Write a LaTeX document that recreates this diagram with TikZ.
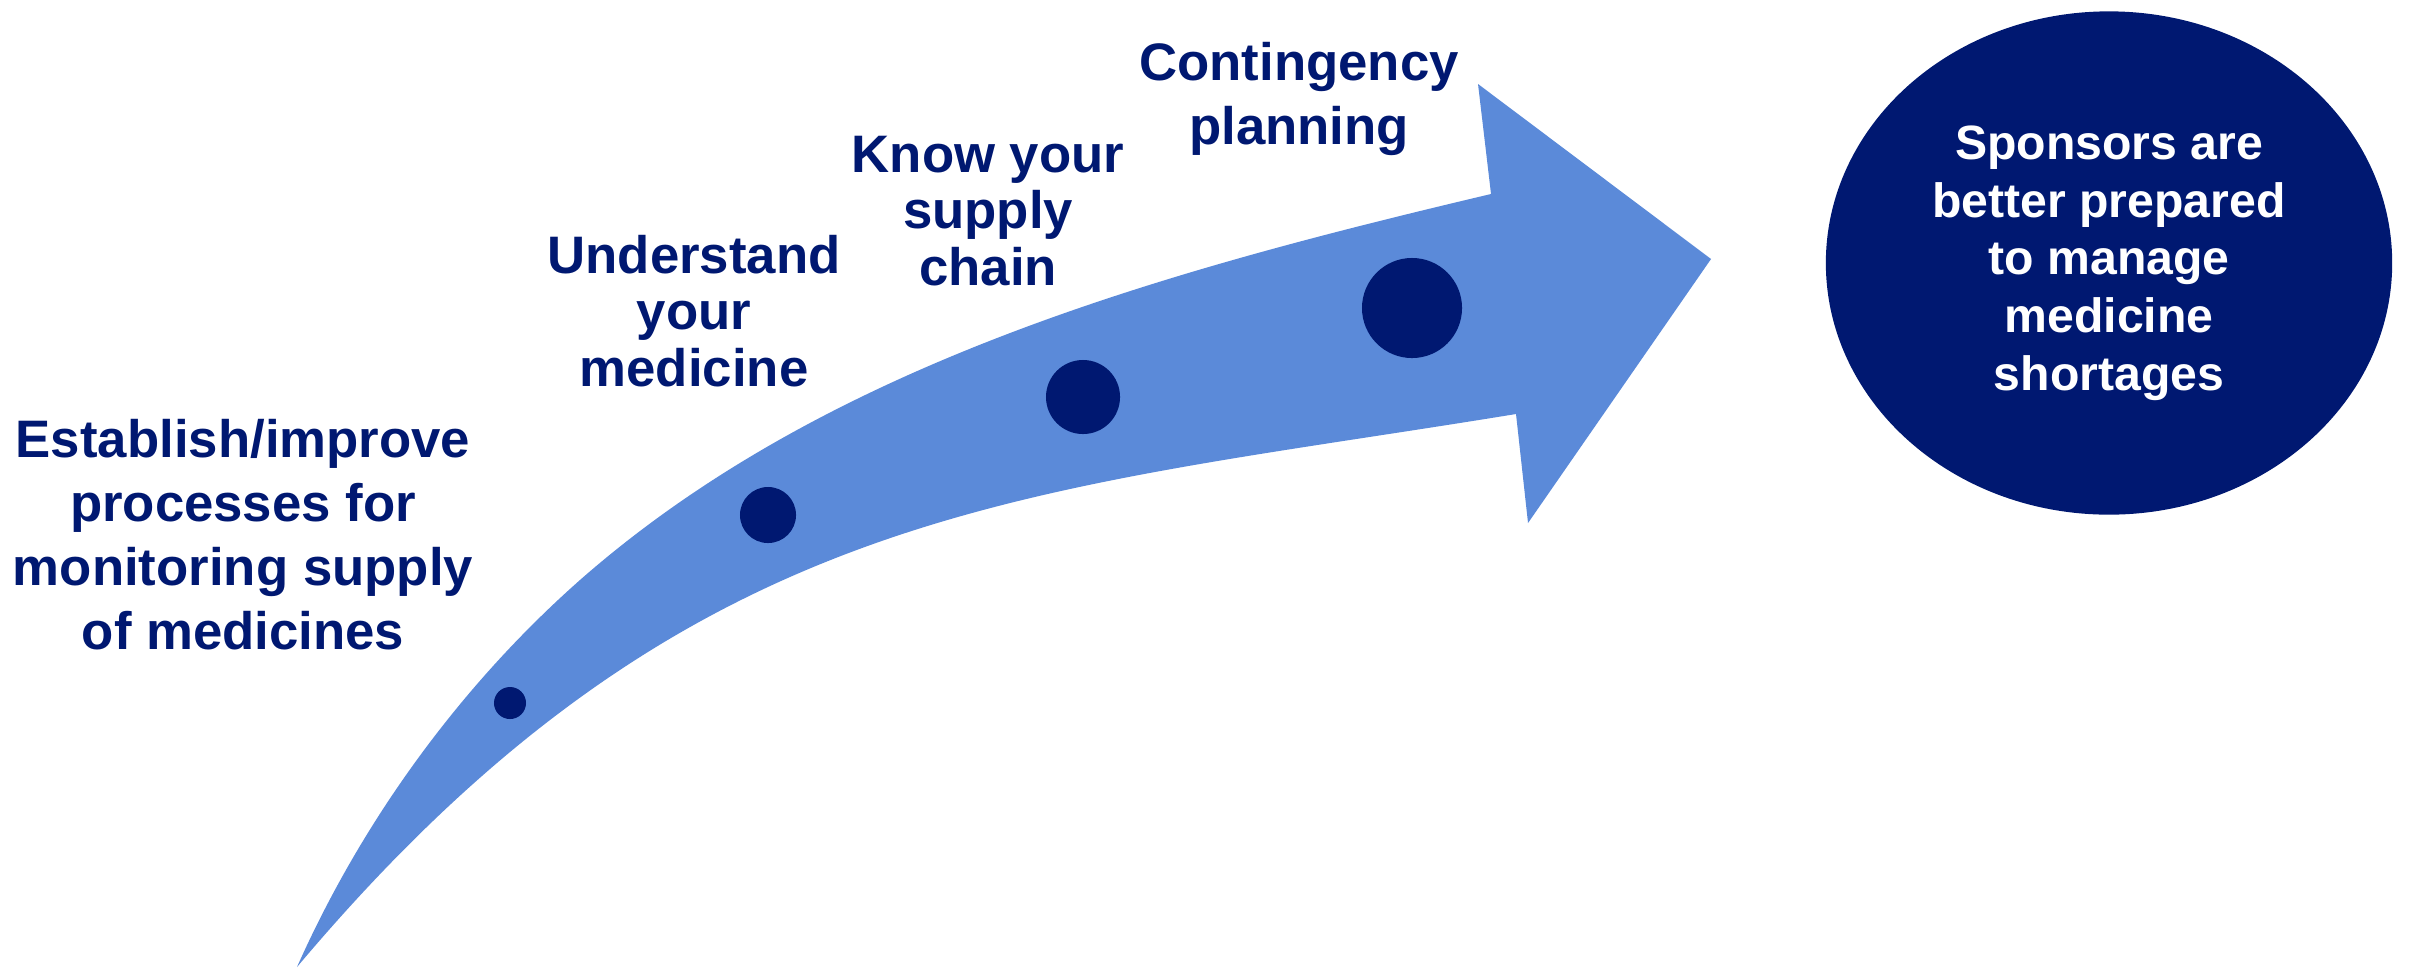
\documentclass[tikz,border=0pt]{standalone}
\usepackage{fontspec}
\setmainfont{Liberation Sans}
\usetikzlibrary{shapes.geometric}
\definecolor{navyblue}{RGB}{0,24,113}
\definecolor{arrowblue}{RGB}{91,138,217}

\begin{document}
\begin{tikzpicture}[x=0.01cm, y=-0.01cm,
    steplabel/.style={text=navyblue, align=center, inner sep=0pt,
      font=\bfseries\fontsize{15}{16}\selectfont},
    dot/.style={circle, fill=navyblue, inner sep=0pt},
    goal/.style={ellipse, fill=navyblue, text=white, align=center, inner sep=0pt,
      font=\bfseries\fontsize{13.7}{16.4}\selectfont}]
    \useasboundingbox (0,0) rectangle (2410,969);

    % Curved arrow
    \fill[arrowblue] (297,967) .. controls (362,821) and (460,686) .. (580,580)
        .. controls (828,362) and (1170,270) .. (1491,194)
        -- (1478,84) -- (1711,259) -- (1528,523) -- (1516,414)
        .. controls (1021,495) and (690,500) .. (297,967) -- cycle;

    % Milestones on the arrow
    \node[dot, minimum size=3.2mm] (d1) at (510,703) {};
    \node[dot, minimum size=5.6mm] (d2) at (768,515) {};
    \node[dot, minimum size=7.4mm] (d3) at (1083,397) {};
    \node[dot, minimum size=10mm] (d4) at (1412,308) {};

    % Step labels
    \node[steplabel, font=\bfseries\fontsize{15}{18.2}\selectfont] (establish) at (243,535)
        {Establish/improve\\processes for\\monitoring supply\\of medicines};
    \node[steplabel] (understand) at (694,311) {Understand\\your\\medicine};
    \node[steplabel] (know) at (988,211) {Know your\\supply\\chain};
    \node[steplabel, font=\bfseries\fontsize{15}{18.4}\selectfont] (contingency) at (1299,99)
        {Contingency\\planning};

    % Outcome
    \node[goal, minimum width=5.66cm, minimum height=5.03cm] (outcome) at (2109,263)
        {Sponsors are\\better prepared\\to manage\\medicine\\shortages};
\end{tikzpicture}
\end{document}
